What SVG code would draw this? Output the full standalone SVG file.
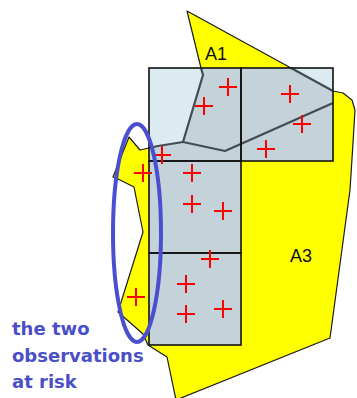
<svg xmlns="http://www.w3.org/2000/svg" xmlns:xlink="http://www.w3.org/1999/xlink" width="357" height="398" viewBox="0 0 357 398">
<style>
.area{fill:#ffff00;stroke:#1a1a1a;stroke-width:1.2;stroke-linejoin:round}
.cell{fill:#dcebf2;stroke:none}
.inner{fill:#c4d3da;stroke:none}
.bound{fill:none;stroke:#434c52;stroke-width:2.2;stroke-linejoin:round}
.grid{fill:none;stroke:#111;stroke-width:1.6}
.cross{fill:none;stroke:#ff0000;stroke-width:2}
.lbl{font-family:"Liberation Sans",Arial,sans-serif;font-size:18px;fill:#111}
.note{font-family:"DejaVu Sans",Verdana,sans-serif;font-weight:bold;font-size:18px;fill:#4a4fc8}
</style>
<defs>
<path id="area-shape" d="M187,11 L291,68 L333,91 L343,93 L352,100 L355,110 L353,143 L350,190 L330,338 L176,400 L167,357 L148,345 L143,334 L118,312 L143,232 L134,187 L120,180 L113,177 L129,137 L140,150 L149,148 L158,146 L183,142 L203,75 L201,68 Z"/>
<clipPath id="gridclip">
<rect x="149" y="68" width="184" height="93"/>
<rect x="149" y="161" width="92" height="184"/>
</clipPath>
<path id="cr" d="M-9,0h18M0,-9v18"/>
</defs>
<g id="region">
<use xlink:href="#area-shape" class="area"/>
</g>
<g id="cells">
<rect class="cell" x="149" y="68" width="184" height="93"/>
<rect class="cell" x="149" y="161" width="92" height="184"/>
<use xlink:href="#area-shape" class="inner" clip-path="url(#gridclip)"/>
</g>
<g id="boundaries">
<polyline class="bound" points="201,68 203,75 183,142 158,146 149,148"/>
<polyline class="bound" points="183,142 225,151 333,103"/>
<polyline class="bound" points="291,68 333,91"/>
</g>
<g id="grid">
<rect class="grid" x="149" y="68" width="92" height="93"/>
<rect class="grid" x="241" y="68" width="92" height="93"/>
<rect class="grid" x="149" y="161" width="92" height="92"/>
<rect class="grid" x="149" y="253" width="92" height="92"/>
</g>
<g id="observations" class="cross">
<use xlink:href="#cr" x="228" y="87"/>
<use xlink:href="#cr" x="204" y="106"/>
<use xlink:href="#cr" x="290" y="94"/>
<use xlink:href="#cr" x="302" y="124"/>
<use xlink:href="#cr" x="266" y="149"/>
<use xlink:href="#cr" x="162" y="155"/>
<use xlink:href="#cr" x="143" y="173"/>
<use xlink:href="#cr" x="192" y="173"/>
<use xlink:href="#cr" x="192" y="204"/>
<use xlink:href="#cr" x="223" y="211"/>
<use xlink:href="#cr" x="210" y="259"/>
<use xlink:href="#cr" x="186" y="284"/>
<use xlink:href="#cr" x="186" y="314"/>
<use xlink:href="#cr" x="223" y="309"/>
<use xlink:href="#cr" x="136" y="297"/>
</g>
<g id="risk-ellipse">
<ellipse cx="137" cy="233" rx="24" ry="109" fill="none" stroke="#4a4fd0" stroke-width="4"/>
</g>
<g id="labels">
<text class="lbl" x="205" y="60">A1</text>
<text class="lbl" x="290" y="262">A3</text>
<text class="note" x="12" y="335">the two</text>
<text class="note" x="12" y="362">observations</text>
<text class="note" x="12" y="388">at risk</text>
</g>
</svg>
